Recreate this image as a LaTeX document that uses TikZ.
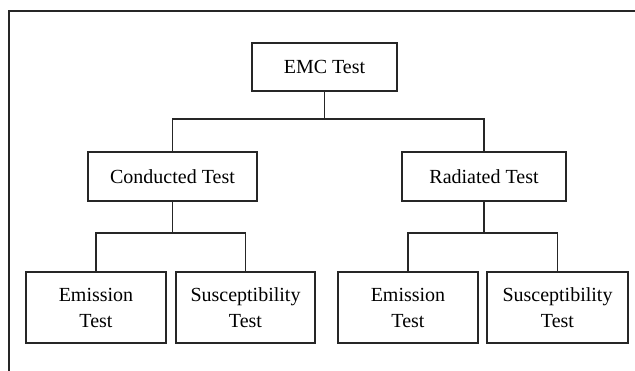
\documentclass[tikz,border=0pt]{standalone}
\usepackage{fontspec}
\setmainfont{Liberation Serif}
\begin{document}
\begin{tikzpicture}[x=1pt,y=-1pt,
  every node/.style={inner sep=0pt, outer sep=0pt},
  box/.style={draw=black!85, line width=1.2pt, font=\fontsize{20}{26}\selectfont, align=center},
  link/.style={draw=black!85, line width=1.2pt}]
  \useasboundingbox (0,0) rectangle (635,371);
  % page frame, open to the right and bottom
  \draw[line width=1.4pt, black!85] (9,371) -- (9,11) -- (640,11);

  % boxes: centre, width, height
  \node[box, minimum width=145pt, minimum height=48pt] (emc) at (324.5,67) {EMC Test};
  \node[box, minimum width=169pt, minimum height=49pt] (cond) at (172.5,176.5) {Conducted Test};
  \node[box, minimum width=164pt, minimum height=49pt] (rad) at (484,176.5) {Radiated Test};
  \node[box, minimum width=140pt, minimum height=71pt] (ce) at (96,307.5) {Emission\\Test};
  \node[box, minimum width=139pt, minimum height=71pt] (cs) at (245.5,307.5) {Susceptibility\\Test};
  \node[box, minimum width=140pt, minimum height=71pt] (re) at (408,307.5) {Emission\\Test};
  \node[box, minimum width=141pt, minimum height=71pt] (rs) at (557.5,307.5) {Susceptibility\\Test};

  % junction levels
  \coordinate (j1) at (324.5,119);
  \coordinate (j2) at (172.5,233);
  \coordinate (j3) at (484,233);

  % connectors
  \draw[link] (emc.south) -- (j1);
  \draw[link] (cond.north) |- (j1) -| (rad.north);
  \draw[link] (cond.south) -- (j2);
  \draw[link] (ce.north) |- (j2) -| (cs.north);
  \draw[link] (rad.south) -- (j3);
  \draw[link] (re.north) |- (j3) -| (rs.north);
\end{tikzpicture}
\end{document}
